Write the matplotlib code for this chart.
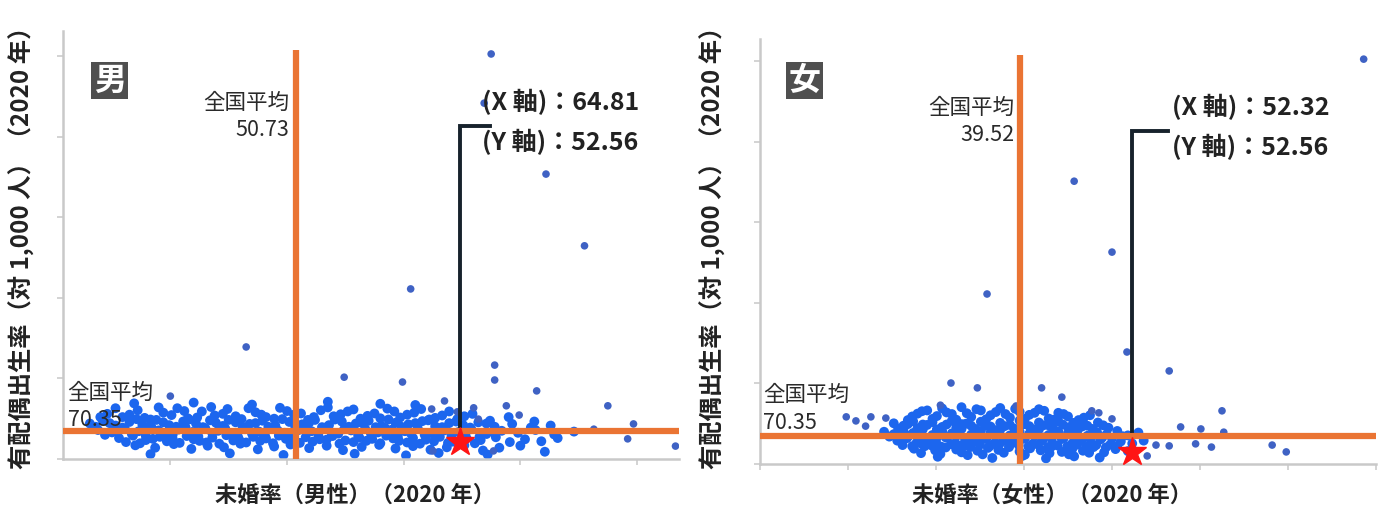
import matplotlib
matplotlib.use("Agg")
from matplotlib import pyplot as plt

plt.rcParams['font.family'] = ['Noto Sans CJK JP', 'DejaVu Sans']

# ---- data (x: 未婚率, y: 有配偶出生率) ----
male_outliers = [(67.5, 1005), (66.9, 883), (72.2, 707), (75.5, 529), (60.6, 422),
                 (46.5, 278), (54.9, 203), (59.9, 191), (67.8, 233), (67.8, 196),
                 (71.4, 169), (77.5, 132), (40.0, 156), (83.3, 32), (63.5, 144),
                 (62.4, 124), (66.0, 127), (68.8, 132), (69.9, 109), (79.7, 87),
                 (79.2, 50), (76.3, 74), (62.5, 20), (67.7, 20), (64.6, 117), (66.4, 99)]

male_band = [
    (34.6, 112), (35.9, 104), (37.2, 121), (38.3, 98), (39.4, 115), (40.6, 126), (41.5, 101),
    (42.7, 118), (43.8, 108), (44.9, 124), (46.1, 99), (47.3, 116), (48.2, 104), (49.4, 127),
    (50.6, 110), (51.8, 97), (52.9, 121), (54.0, 106), (55.2, 118), (56.3, 100), (57.5, 113),
    (58.6, 125), (59.7, 103), (60.9, 115), (62.1, 96), (63.3, 108), (64.6, 99), (65.9, 112),
    (67.4, 95), (69.0, 104), (71.2, 93),
    (33.1, 88), (34.2, 95), (35.3, 83), (36.5, 92), (37.6, 86), (38.8, 97), (39.9, 84),
    (41.1, 93), (42.2, 88), (43.4, 96), (44.5, 82), (45.6, 91), (46.8, 87), (47.9, 95),
    (49.0, 83), (50.2, 92), (51.3, 86), (52.4, 97), (53.6, 84), (54.7, 93), (55.9, 88),
    (57.0, 95), (58.1, 82), (59.3, 90), (60.4, 86), (61.6, 94), (62.7, 81), (63.9, 89),
    (65.1, 84), (66.4, 91), (67.8, 80), (69.3, 87), (70.9, 78), (72.6, 83),
    (33.8, 72), (35.0, 66), (36.1, 75), (37.3, 69), (38.4, 78), (39.6, 64), (40.7, 73),
    (41.9, 67), (43.0, 76), (44.1, 70), (45.3, 62), (46.4, 74), (47.6, 68), (48.7, 77),
    (49.8, 65), (51.0, 72), (52.1, 69), (53.3, 78), (54.4, 63), (55.5, 71), (56.7, 75),
    (57.8, 66), (59.0, 73), (60.1, 69), (61.2, 77), (62.4, 64), (63.5, 71), (64.7, 67),
    (65.8, 74), (67.1, 62), (68.4, 70), (69.8, 65), (71.3, 72), (72.9, 61), (74.6, 68),
    (35.6, 52), (36.8, 58), (37.9, 47), (39.1, 55), (40.2, 50), (41.4, 57), (42.5, 45),
    (43.6, 53), (44.8, 59), (45.9, 48), (47.1, 55), (48.2, 51), (49.3, 58), (50.5, 44),
    (51.6, 54), (52.8, 49), (53.9, 57), (55.0, 46), (56.2, 53), (57.3, 50), (58.5, 58),
    (59.6, 45), (60.8, 52), (61.9, 48), (63.1, 55), (64.2, 43), (65.4, 51), (66.6, 47),
    (67.9, 54), (69.1, 42), (70.4, 49), (71.8, 44), (73.2, 52),
    (37.0, 34), (38.7, 28), (40.3, 37), (41.8, 25), (43.2, 33), (44.6, 29), (46.0, 38),
    (47.5, 24), (48.9, 31), (50.3, 36), (51.9, 27), (53.4, 33), (54.8, 22), (56.4, 30),
    (57.9, 35), (59.3, 26), (60.8, 32), (62.3, 23), (63.7, 29), (65.2, 34), (66.8, 21),
    (68.2, 28), (70.0, 33),
    (38.3, 12), (45.1, 14), (49.7, 10), (55.8, 13), (60.2, 9), (63.0, 15), (67.2, 11), (72.1, 18),
    (36.9, 138), (42.0, 140), (47.0, 135), (53.5, 142), (58.0, 137), (61.0, 134),
]

male_band2 = [
    (34.0, 104), (35.3, 126), (36.5, 110), (37.8, 102), (39.0, 128), (40.1, 109), (41.2, 119),
    (42.3, 103), (43.5, 129), (44.5, 112), (45.6, 106), (46.7, 126), (47.8, 110), (48.9, 100),
    (50.0, 119), (51.2, 113), (52.3, 104), (53.5, 128), (54.6, 111), (55.7, 123), (56.9, 107),
    (58.0, 101), (59.2, 118), (60.3, 110), (61.5, 124), (62.7, 102), (63.9, 118), (65.2, 106),
    (33.6, 80), (34.8, 89), (35.9, 78), (37.1, 99), (38.2, 81), (39.4, 91), (40.5, 80),
    (41.6, 98), (42.8, 79), (43.9, 90), (45.0, 97), (46.2, 79), (47.3, 89), (48.4, 80),
    (49.6, 99), (50.7, 81), (51.9, 90), (53.0, 79), (54.1, 98), (55.3, 80), (56.4, 90),
    (57.6, 79), (58.7, 98), (59.8, 80), (61.0, 89), (62.2, 98), (63.3, 79), (64.5, 93),
    (65.7, 78), (67.1, 88),
    (34.4, 60), (35.6, 73), (36.7, 62), (37.9, 57), (39.0, 71), (40.2, 60), (41.3, 79),
    (42.4, 56), (43.6, 64), (44.7, 76), (45.8, 55), (47.0, 63), (48.1, 59), (49.2, 71),
    (50.4, 61), (51.5, 78), (52.7, 57), (53.8, 66), (54.9, 74), (56.1, 58), (57.2, 62),
    (58.4, 77), (59.5, 56), (60.6, 64), (61.8, 60), (63.0, 75), (64.1, 57), (65.3, 63),
    (66.5, 55), (67.8, 66),
    (36.2, 42), (37.4, 39), (38.5, 50), (39.7, 44), (40.8, 40), (42.0, 49), (43.1, 41),
    (44.2, 38), (45.4, 46), (46.5, 41), (47.7, 45), (48.8, 39), (49.9, 50), (51.1, 40),
    (52.2, 43), (53.4, 48), (54.5, 38), (55.7, 42), (56.8, 45), (58.0, 39), (59.1, 51),
    (60.3, 41), (61.4, 38), (62.6, 44), (63.8, 40), (65.0, 46), (66.1, 39),
]

female_outliers = [(78.6, 1005), (45.7, 702), (50.0, 526), (35.8, 422), (51.7, 278),
                   (56.5, 231), (31.7, 201), (34.7, 189), (42.0, 189), (44.3, 166),
                   (30.5, 146), (39.1, 144), (62.5, 132), (57.8, 92), (60.1, 87),
                   (62.7, 79), (68.2, 47), (69.8, 30), (61.3, 42), (59.5, 50),
                   (56.5, 45), (55.0, 47), (54.0, 20), (50.0, 112), (47.7, 132),
                   (48.5, 127), (19.8, 117), (20.9, 107), (22.6, 117), (24.3, 114), (22.0, 94)]

female_band = [
    (27.3, 118), (28.4, 131), (29.6, 112), (30.7, 138), (31.8, 124), (32.9, 141), (34.0, 117),
    (35.1, 133), (36.2, 121), (37.3, 139), (38.4, 115), (39.5, 130), (40.6, 122), (41.7, 136),
    (42.8, 113), (43.9, 127), (45.0, 118), (46.2, 109), (47.5, 121),
    (25.2, 101), (26.3, 95), (27.4, 106), (28.5, 98), (29.6, 104), (30.7, 92), (31.8, 107),
    (32.9, 99), (34.0, 95), (35.1, 105), (36.2, 93), (37.3, 102), (38.4, 97), (39.5, 108),
    (40.6, 94), (41.7, 103), (42.8, 96), (43.9, 106), (45.0, 91), (46.1, 100), (47.2, 95),
    (48.4, 103), (49.6, 90),
    (24.1, 80), (25.2, 74), (26.3, 84), (27.4, 77), (28.5, 86), (29.6, 72), (30.7, 81),
    (31.8, 76), (32.9, 87), (34.0, 73), (35.1, 82), (36.2, 78), (37.3, 85), (38.4, 71),
    (39.5, 80), (40.6, 75), (41.7, 86), (42.8, 72), (43.9, 81), (45.0, 77), (46.1, 84),
    (47.2, 70), (48.3, 79), (49.4, 74), (50.6, 82), (51.8, 71), (53.0, 78),
    (25.6, 58), (26.7, 64), (27.8, 53), (28.9, 61), (30.0, 56), (31.1, 66), (32.2, 52),
    (33.3, 60), (34.4, 55), (35.5, 65), (36.6, 51), (37.7, 59), (38.8, 54), (39.9, 63),
    (41.0, 50), (42.1, 58), (43.2, 53), (44.3, 62), (45.4, 49), (46.5, 57), (47.6, 52),
    (48.7, 61), (49.8, 48), (51.0, 56), (52.3, 51), (53.6, 58),
    (27.5, 38), (28.7, 44), (29.9, 34), (31.1, 41), (32.3, 36), (33.5, 46), (34.7, 33),
    (35.9, 40), (37.1, 35), (38.3, 45), (39.5, 31), (40.7, 39), (41.9, 34), (43.1, 43),
    (44.3, 30), (45.5, 38), (46.7, 33), (47.9, 42), (49.1, 29), (50.4, 37), (51.8, 32),
    (30.2, 18), (33.6, 22), (36.4, 15), (39.8, 20), (42.5, 14), (45.7, 19), (48.6, 16),
]

female_band2 = [
    (26.8, 109), (27.9, 125), (29.0, 133), (30.1, 119), (31.2, 128), (32.3, 110), (33.5, 126),
    (34.6, 136), (35.7, 111), (36.8, 129), (37.9, 124), (39.0, 137), (40.1, 112), (41.2, 127),
    (42.3, 132), (43.4, 110), (44.5, 124), (45.6, 102), (46.8, 115),
    (25.7, 88), (26.8, 99), (27.9, 89), (29.0, 97), (30.1, 86), (31.2, 98), (32.3, 90),
    (33.4, 100), (34.5, 87), (35.6, 95), (36.7, 84), (37.8, 94), (38.9, 88), (40.0, 99),
    (41.1, 86), (42.2, 96), (43.3, 89), (44.4, 98), (45.5, 84), (46.6, 93), (47.8, 87), (49.0, 96),
    (24.7, 68), (25.8, 64), (26.9, 70), (28.0, 67), (29.1, 63), (30.2, 69), (31.3, 66),
    (32.4, 71), (33.5, 64), (34.6, 68), (35.7, 62), (36.8, 70), (37.9, 65), (39.0, 72),
    (40.1, 63), (41.2, 69), (42.3, 66), (43.4, 71), (44.5, 64), (45.6, 68), (46.7, 63),
    (47.8, 70), (48.9, 66), (50.0, 64), (51.2, 69),
    (26.2, 47), (27.3, 44), (28.4, 50), (29.5, 46), (30.6, 43), (31.7, 49), (32.8, 45),
    (33.9, 42), (35.0, 48), (36.1, 44), (37.2, 49), (38.3, 42), (39.4, 47), (40.5, 43),
    (41.6, 48), (42.7, 41), (43.8, 46), (44.9, 43), (46.0, 48), (47.1, 42), (48.2, 47),
    (49.3, 41), (50.6, 45),
    (28.3, 27), (30.5, 25), (32.9, 29), (35.3, 24), (37.7, 28), (40.1, 23), (42.9, 27),
    (45.1, 24), (47.4, 28),
]

male_star = (64.81, 42)
female_star = (52.32, 30)
male_avg_x, female_avg_x, avg_y = 50.73, 39.52, 70.35

panels = [
    dict(sex="男", xlabel="未婚率（男性）（2020 年）", bands=[male_band, male_band2],
         outliers=male_outliers, star=male_star, avg_x=male_avg_x, xlim=(30.8, 83.6),
         ylim=(0, 1062), xticks=[40, 50, 60, 70, 80],
         pos=[63 / 1383, 50 / 510, 616 / 1383, 428 / 510],
         xtxt="(X 軸)：64.81", ytxt="(Y 軸)：52.56"),
    dict(sex="女", xlabel="未婚率（女性）（2020 年）", bands=[female_band, female_band2],
         outliers=female_outliers, star=female_star, avg_x=female_avg_x, xlim=(10, 80),
         ylim=(0, 1055), xticks=[10, 20, 30, 40, 50, 60, 70, 80],
         pos=[760 / 1383, 45 / 510, 616 / 1383, 425 / 510],
         xtxt="(X 軸)：52.32", ytxt="(Y 軸)：52.56"),
]

orange = "#ea7433"
blue = "#1c66ee"
fig = plt.figure(figsize=(13.83, 5.10), dpi=100)

for i, p in enumerate(panels):
    ax = fig.add_axes(p["pos"])
    ax.set_xlim(*p["xlim"])
    ax.set_ylim(*p["ylim"])
    for s in ["top", "right"]:
        ax.spines[s].set_visible(False)
    for s in ["left", "bottom"]:
        ax.spines[s].set_color("#c9c9c9")
        ax.spines[s].set_linewidth(1.8)
    ax.set_xticks(p["xticks"])
    ax.set_yticks([0, 200, 400, 600, 800, 1000])
    ax.tick_params(colors="#cccccc", length=4, width=1.2, labelbottom=False, labelleft=False)

    for band in p["bands"]:
        bx, by = zip(*band)
        ax.scatter(bx, by, s=50, color=blue, edgecolors="none", zorder=2)
    ox, oy = zip(*p["outliers"])
    ax.scatter(ox, oy, s=30, color="#3f62c4", edgecolors="none", zorder=2)

    ax.axhline(avg_y, color=orange, lw=4.5, zorder=3)
    ax.vlines(p["avg_x"], 0, 1015, color=orange, lw=4.5, zorder=3)

    sx, sy = p["star"]
    ax.plot([sx, sx, sx + (2.6 if i == 0 else 4.0)], [82, 826, 826], color="#17222c",
            lw=2.8, solid_joinstyle="miter", zorder=4)
    ax.plot(sx, sy, marker="*", ms=21, color="#ff1515", mec="#ff1515", zorder=5)

    tx = sx + (1.9 if i == 0 else 4.5)
    ax.text(tx, 888, p["xtxt"], fontsize=18, fontweight="bold", color="#222222",
            va="center", ha="left", zorder=6)
    ax.text(tx, 790, p["ytxt"], fontsize=18, fontweight="bold", color="#222222",
            va="center", ha="left", zorder=6)

    ax.text(p["avg_x"] - (0.5 if i == 0 else 0.6), 853, "全国平均\n" + f"{p['avg_x']:.2f}",
            fontsize=15.5, ha="right", va="center", linespacing=1.3, color="#2a2a2a", zorder=6)
    ax.text(p["xlim"][0] + (0.4 if i == 0 else 0.35), 133 if i == 0 else 139,
            "全国平均\n" + f"{avg_y:.2f}", fontsize=15.5, ha="left", va="center",
            linespacing=1.3, color="#2a2a2a", zorder=6)

    bxp = 34.8 if i == 0 else 15.1
    byp = 940 if i == 0 else 953
    ax.text(bxp, byp, p["sex"], fontsize=23, fontweight="bold", color="white",
            ha="center", va="center", zorder=6,
            bbox=dict(boxstyle="square,pad=0.08", fc="#4f4f4f", ec="none"))

    cx = (p["pos"][0] * 1383 + 616 / 2 - 16) / 1383
    fig.text(cx, 0.028, p["xlabel"], fontsize=16, fontweight="bold", color="#222222",
             ha="center", va="center")
    fig.text((22 if i == 0 else 713) / 1383, 0.525, "有配偶出生率（対 1,000 人）（2020 年）",
             fontsize=17.5, fontweight="bold", color="#222222", rotation=90,
             ha="center", va="center")

fig.savefig("out.png", dpi=100)
